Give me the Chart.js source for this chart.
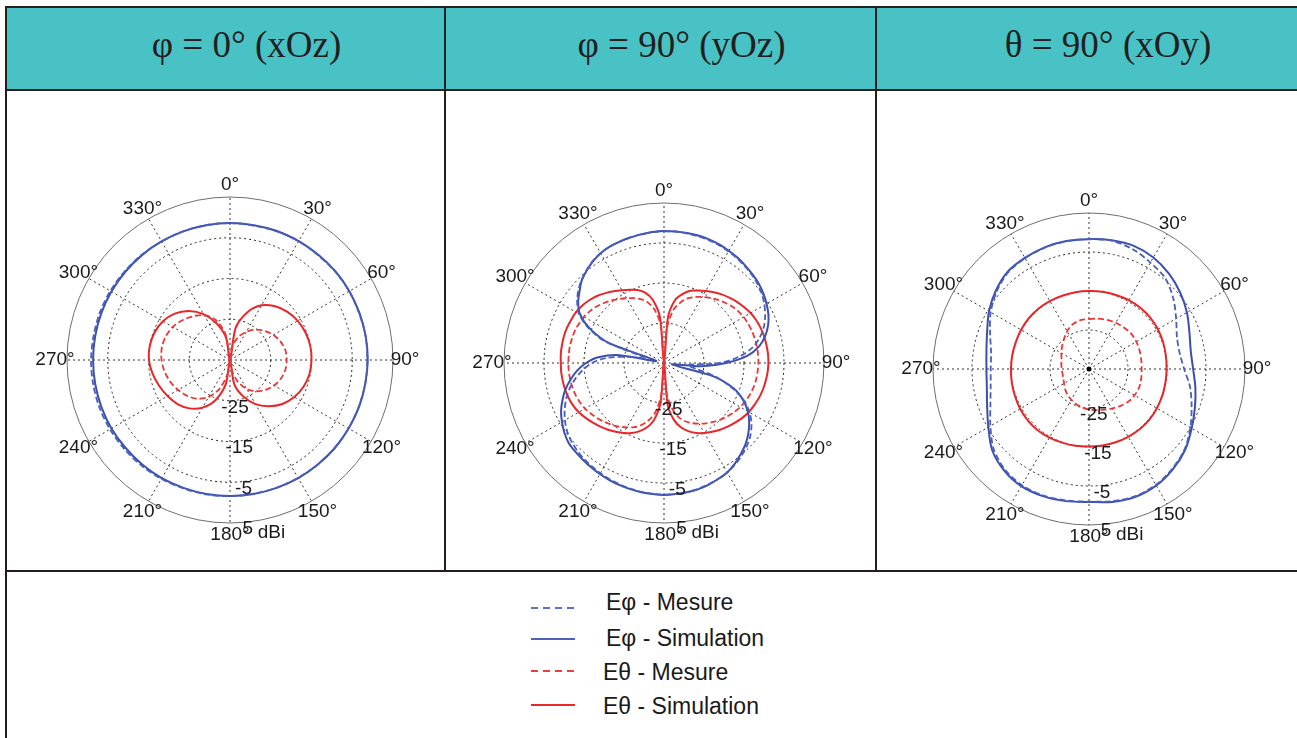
<!DOCTYPE html>
<html lang="fr">
<head>
  <meta charset="UTF-8" />
  <title>Diagrammes de rayonnement</title>
  <script src="https://cdn.jsdelivr.net/npm/chart.js"></script>
  <style>
    body { margin: 0; background: #fff; width: 1297px; height: 738px; overflow: hidden; position: relative; }
    .ln { position: absolute; background: #231f20; }
    .head { position: absolute; top: 8px; height: 81px; background: #49c2c5; color: #231f20;
            font-family: "Liberation Serif", "Times New Roman", serif; font-size: 37px;
            line-height: 74px; text-align: center; padding-left: 42px; box-sizing: border-box; }
    canvas { position: absolute; }
    .lg { position: absolute; font-family: "Liberation Sans", Arial, sans-serif; font-size: 23px;
          line-height: 26px; color: #1a1a1a; white-space: nowrap; }
    .lgline { position: absolute; left: 530px; }
  </style>
</head>
<body>
  <!-- en-têtes -->
  <div class="head" style="left:7px;width:437px">φ = 0° (xOz)</div>
  <div class="head" style="left:446px;width:429px">φ = 90° (yOz)</div>
  <div class="head" style="left:877px;width:420px">θ = 90° (xOy)</div>

  <!-- traits du tableau -->
  <div class="ln" style="left:5px;top:6px;width:1292px;height:2px"></div>
  <div class="ln" style="left:5px;top:6px;width:2px;height:732px"></div>
  <div class="ln" style="left:5px;top:89px;width:1292px;height:2px"></div>
  <div class="ln" style="left:5px;top:570px;width:1292px;height:2px"></div>
  <div class="ln" style="left:444px;top:6px;width:2px;height:566px"></div>
  <div class="ln" style="left:875px;top:6px;width:2px;height:566px"></div>

  <!-- diagrammes polaires -->
  <canvas id="c1" width="400" height="400" style="left:30px;top:160px"></canvas>
  <canvas id="c2" width="400" height="400" style="left:464px;top:163px"></canvas>
  <canvas id="c3" width="400" height="400" style="left:889px;top:169px"></canvas>

  <!-- légende -->
  <svg class="lgline" style="top:600px" width="50" height="16"><line x1="1" y1="8" x2="45" y2="8" stroke="#5f70c4" stroke-width="2" stroke-dasharray="7,5"/></svg>
  <div class="lg" style="left:606px;top:589px">Eφ - Mesure</div>
  <svg class="lgline" style="top:631px" width="50" height="16"><line x1="1" y1="8" x2="45" y2="8" stroke="#5062b8" stroke-width="2"/></svg>
  <div class="lg" style="left:606px;top:625px">Eφ - Simulation</div>
  <svg class="lgline" style="top:663px" width="50" height="16"><line x1="1" y1="8" x2="45" y2="8" stroke="#ef3b3b" stroke-width="2" stroke-dasharray="7,5"/></svg>
  <div class="lg" style="left:603px;top:659px">Eθ - Mesure</div>
  <svg class="lgline" style="top:697px" width="50" height="16"><line x1="1" y1="8" x2="45" y2="8" stroke="#e8282b" stroke-width="2"/></svg>
  <div class="lg" style="left:603px;top:693px">Eθ - Simulation</div>

  <script>
    // angles (degrés) et graduations
    const angles10 = [0,10,20,30,40,50,60,70,80,90,100,110,120,130,140,150,160,170,
                      180,190,200,210,220,230,240,250,260,270,280,290,300,310,320,330,340,350];
    const angles5 = [0,5,10,15,20,25,30,35,40,45,50,55,60,65,70,75,80,85,90,95,100,105,110,115,
                     120,125,130,135,140,145,150,155,160,165,170,175,180,185,190,195,200,205,210,215,
                     220,225,230,235,240,245,250,255,260,265,270,275,280,285,290,295,300,305,310,315,
                     320,325,330,335,340,345,350,355];
    const angleTicks = [0,30,60,90,120,150,180,210,240,270,300,330];
    const radialTicks = [-25,-15,-5,5];
    const radialMin = -35, radialMax = 5;

    // φ = 0° (xOz), pas de 10°
    const xozEphiMes = [-1.4,-1.5,-1.4,-1.3,-1.4,-1.3,-1.2,-1.3,-1.2,-1.3,-1.3,-1.4,-1.4,-1.5,-1.5,-1.6,-1.6,-1.7,
                        -1.6,-1.5,-1.5,-1.3,-1.2,-1.1,-1.0,-0.9,-0.9,-0.9,-1.0,-1.0,-1.1,-1.2,-1.3,-1.4,-1.4,-1.4];
    const xozEphiSim = [-1.4,-1.4,-1.3,-1.3,-1.3,-1.2,-1.2,-1.2,-1.2,-1.2,-1.3,-1.3,-1.4,-1.4,-1.5,-1.5,-1.6,-1.6,
                        -1.6,-1.6,-1.6,-1.5,-1.5,-1.5,-1.4,-1.4,-1.4,-1.4,-1.4,-1.4,-1.4,-1.4,-1.4,-1.4,-1.4,-1.4];
    const xozEthetaMes = [-35,-31.5,-29.0,-27.0,-25.3,-23.9,-22.7,-21.8,-21.2,-21.1,-21.2,-21.7,-22.5,-23.6,-25.0,-26.8,-29.3,-32.3,
                          -35,-31.5,-27.5,-24.5,-22.6,-21.3,-20.3,-19.4,-18.7,-18.2,-18.0,-18.2,-18.8,-19.8,-21.0,-22.3,-24.5,-28.5];
    const xozEthetaSim = [-35,-27,-22.5,-19.5,-17.8,-16.6,-15.8,-15.3,-15.0,-15.0,-15.2,-15.8,-16.8,-18.2,-20.2,-22.5,-25.5,-29,
                          -35,-29,-24.5,-21.5,-19.5,-18.2,-17.3,-16.5,-15.7,-15.1,-15.0,-15.3,-16.0,-17.3,-19.3,-22,-25.5,-29.5];

    // φ = 90° (yOz), pas de 5°
    const yozEphiMes = [-2.1,-2.0,-2.1,-2.2,-2.3,-2.5,-2.8,-3.1,-3.5,-3.9,-4.4,-5.1,-6.0,-7.1,-8.4,-10.2,-12.5,-16.0,
                        -21.0,-29,-27,-21.5,-17.0,-13.0,-10.3,-8.3,-6.8,-5.7,-4.8,-4.0,-3.4,-3.0,-2.7,-2.4,-2.2,-2.1,
                        -2.1,-2.2,-2.3,-2.5,-2.7,-2.9,-3.2,-3.5,-3.8,-4.2,-4.7,-5.4,-6.4,-7.6,-9.0,-10.6,-12.5,-14.6,
                        -17.0,-20.5,-26,-30,-19.5,-14.0,-10.5,-8.5,-7.0,-5.8,-4.8,-3.9,-3.3,-2.9,-2.7,-2.5,-2.3,-2.2];
    const yozEphiSim = [-2.0,-2.0,-2.0,-2.0,-2.1,-2.3,-2.6,-2.9,-3.3,-3.7,-4.1,-4.7,-5.4,-6.2,-7.3,-8.8,-10.8,-14.0,
                        -19.5,-25.5,-33,-22.5,-16.5,-13.2,-10.8,-9.0,-7.5,-6.2,-5.2,-4.2,-3.4,-3.0,-2.6,-2.3,-2.2,-2.1,
                        -2.0,-2.1,-2.2,-2.35,-2.5,-2.7,-2.95,-3.2,-3.45,-3.65,-3.9,-4.6,-5.55,-6.6,-8.0,-9.5,-11.3,-13.2,
                        -15.5,-18.5,-23.7,-33,-20.3,-14.5,-10.8,-8.8,-7.4,-5.9,-4.9,-4.0,-3.3,-2.9,-2.7,-2.5,-2.35,-2.1];
    const yozEthetaMes = [-35,-26,-21.5,-19.4,-17.8,-16.8,-15.9,-15.1,-14.3,-13.6,-12.9,-12.4,-12.0,-11.8,-11.6,-11.5,-11.4,-11.4,
                          -11.4,-11.5,-11.6,-11.8,-12.1,-12.5,-13.0,-13.6,-14.3,-15.0,-15.8,-16.6,-17.5,-18.4,-19.5,-21.0,-23.5,-27.5,
                          -35,-27,-22.5,-20.2,-18.5,-17.3,-16.4,-15.6,-14.8,-14.1,-13.4,-12.8,-12.2,-11.8,-11.5,-11.3,-11.2,-11.1,
                          -11.1,-11.1,-11.1,-11.2,-11.3,-11.6,-11.9,-12.4,-13.0,-13.8,-14.6,-15.5,-16.3,-17.1,-18.0,-19.3,-21.5,-25.5];
    const yozEthetaSim = [-35,-23.5,-19.0,-17.2,-15.8,-15.0,-14.2,-13.4,-12.6,-11.9,-11.2,-10.6,-10.0,-9.6,-9.3,-9.1,-9.0,-8.9,
                          -8.9,-9.0,-9.2,-9.4,-9.7,-10.1,-10.5,-11.1,-11.8,-12.5,-13.2,-14.0,-14.8,-15.7,-16.8,-18.3,-20.5,-24.5,
                          -35,-25,-20.5,-18.3,-16.8,-15.7,-14.8,-14.0,-13.2,-12.5,-11.8,-11.1,-10.4,-9.9,-9.6,-9.4,-9.3,-9.2,
                          -9.2,-9.1,-9.1,-9.1,-9.2,-9.4,-9.6,-10.0,-10.6,-11.3,-12.2,-13.1,-14.0,-14.8,-15.6,-16.8,-19.0,-23.5];

    // θ = 90° (xOy), pas de 10°
    const xoyEphiMes = [-1.7,-1.6,-2.3,-3.5,-4.6,-6.8,-9.2,-11.0,-11.4,-10.6,-8.7,-7.0,-5.0,-3.0,-1.7,-0.7,-0.3,-0.6,
                        -1.0,-0.8,-0.5,-0.6,-1.4,-3.1,-5.8,-8.1,-9.4,-9.8,-9.5,-8.0,-5.9,-4.1,-2.7,-2.2,-1.9,-1.7];
    const xoyEphiSim = [-1.7,-1.5,-1.4,-2.0,-3.1,-4.5,-6.0,-7.6,-8.5,-8.3,-7.3,-6.1,-4.6,-2.8,-1.5,-0.5,-0.1,-0.4,
                        -0.9,-0.6,-0.3,-0.3,-1.1,-2.6,-5.2,-7.2,-8.4,-8.7,-8.3,-7.2,-5.4,-3.8,-2.5,-2.1,-1.8,-1.7];
    const xoyEthetaMes = [-22.2,-21.9,-21.6,-21.3,-21.1,-20.9,-21.0,-21.2,-21.4,-21.5,-21.4,-21.3,-21.5,-21.9,-22.6,-23.3,-23.9,-24.3,
                          -24.6,-25.0,-25.4,-25.9,-26.4,-27.0,-27.6,-28.0,-28.1,-28.0,-27.8,-27.5,-26.8,-26.0,-25.0,-23.8,-22.8,-22.3];
    const xoyEthetaSim = [-15.0,-14.9,-14.8,-14.6,-14.5,-14.5,-14.6,-14.8,-15.0,-15.1,-15.1,-15.0,-14.9,-14.8,-14.8,-14.9,-15.0,-15.1,
                          -15.1,-15.0,-14.9,-14.7,-14.5,-14.5,-14.6,-14.8,-14.9,-15.0,-15.0,-15.0,-14.9,-14.8,-14.8,-14.9,-15.0,-15.0];
    const originMark = [-35];

    const blueMes = '#4a5ebf', blueSim = '#3b4fae', redMes = '#ef3535', redSim = '#e8262a';

    // libellés des angles et des niveaux (dBi), dessinés à partir de l'échelle radiale
    const polarLabels = {
      id: 'polarLabels',
      afterDraw(chart) {
        const s = chart.scales.r;
        const ctx = chart.ctx;
        ctx.save();
        ctx.fillStyle = '#1a1a1a';
        ctx.font = '19px "Liberation Sans", Arial, sans-serif';
        ctx.textAlign = 'center';
        ctx.textBaseline = 'middle';
        angleTicks.forEach(a => {
          const p = s.getPointPosition(chart.data.labels.indexOf(a), s.drawingArea + 12);
          ctx.fillText(a + '°', p.x, p.y);
        });
        const tilt = 6 * Math.PI / 180;
        radialTicks.forEach(v => {
          const d = s.getDistanceFromCenterForValue(v) + 7;
          const x = s.xCenter + d * Math.sin(tilt);
          const y = s.yCenter + d * Math.cos(tilt);
          ctx.fillText(String(v), x, y);
          if (v === radialMax) {
            ctx.textAlign = 'left';
            ctx.fillText('dBi', x + 10, y + 4);
            ctx.textAlign = 'center';
          }
        });
        ctx.restore();
      }
    };

    function makePolar(id, labels, series, pad, mark) {
      const datasets = [
        { data: series[0], borderColor: blueMes, borderWidth: 1.8, borderDash: [6, 3] },
        { data: series[1], borderColor: blueSim, borderWidth: 2 },
        { data: series[2], borderColor: redMes, borderWidth: 1.8, borderDash: [6, 3] },
        { data: series[3], borderColor: redSim, borderWidth: 2 }
      ];
      if (mark) {
        datasets.push({ data: mark, showLine: false, pointRadius: 2.5,
                        pointBackgroundColor: '#000', pointBorderWidth: 0 });
      }
      const step = labels.indexOf(30);
      return new Chart(document.getElementById(id), {
        type: 'radar',
        data: { labels: labels, datasets: datasets },
        options: {
          responsive: false,
          animation: false,
          layout: { padding: pad },
          plugins: { legend: { display: false }, tooltip: { enabled: false } },
          elements: { point: { radius: 0 }, line: { tension: 0.3, fill: false } },
          scales: {
            r: {
              min: radialMin,
              max: radialMax,
              beginAtZero: false,
              ticks: { display: false, stepSize: 10 },
              pointLabels: { display: false },
              grid: {
                circular: true,
                lineWidth: 1,
                color: c => c.tick.value === radialMax ? '#6e6e6e' : (c.tick.value === radialMin ? 'rgba(0,0,0,0)' : '#222')
              },
              border: { dash: c => c.tick.value === radialMax ? [] : [2, 3] },
              angleLines: {
                color: '#333',
                lineWidth: c => (c.index % step === 0 ? 1 : 0),
                borderDash: [2, 3]
              }
            }
          }
        },
        plugins: [polarLabels]
      });
    }

    makePolar('c1', angles10, [xozEphiMes, xozEphiSim, xozEthetaMes, xozEthetaSim], 37);
    makePolar('c2', angles5, [yozEphiMes, yozEphiSim, yozEthetaMes, yozEthetaSim], 40);
    makePolar('c3', angles10, [xoyEphiMes, xoyEphiSim, xoyEthetaMes, xoyEthetaSim], 44, originMark);
  </script>
</body>
</html>
